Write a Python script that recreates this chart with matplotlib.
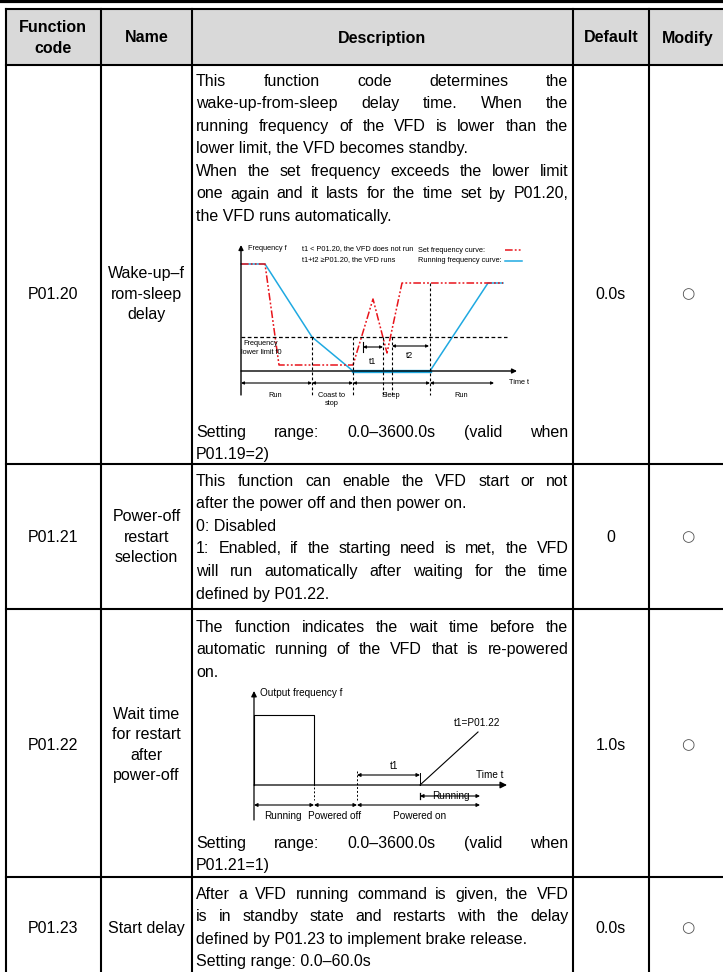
import matplotlib
matplotlib.use("Agg")
import matplotlib.pyplot as plt
from matplotlib.font_manager import FontProperties

plt.rcParams['font.family'] = ['Liberation Sans', 'DejaVu Sans']

# ---- table content ----
headers = ["Function\ncode", "Name", "Description", "Default", "Modify"]
codes = ["P01.20", "P01.21", "P01.22", "P01.23"]
names = ["Wake-up–f\nrom-sleep\ndelay", "Power-off\nrestart\nselection",
         "Wait time\nfor restart\nafter\npower-off", "Start delay"]
defaults = ["0.0s", "0", "1.0s", "0.0s"]
modify = ["○", "○", "○", "○"]

desc_20a = [["This function code determines the",
             "wake-up-from-sleep delay time. When the",
             "running frequency of the VFD is lower than the",
             "lower limit, the VFD becomes standby."],
            ["When the set frequency exceeds the lower limit",
             "one again and it lasts for the time set by P01.20,",
             "the VFD runs automatically."]]
desc_20b = [["Setting range: 0.0–3600.0s (valid when", "P01.19=2)"]]
desc_21 = [["This function can enable the VFD start or not",
            "after the power off and then power on."],
           ["0: Disabled"],
           ["1: Enabled, if the starting need is met, the VFD",
            "will run automatically after waiting for the time",
            "defined by P01.22."]]
desc_22a = [["The function indicates the wait time before the",
             "automatic running of the VFD that is re-powered",
             "on."]]
desc_22b = [["Setting range: 0.0–3600.0s (valid when", "P01.21=1)"]]
desc_23 = [["After a VFD running command is given, the VFD",
            "is in standby state and restarts with the delay",
            "defined by P01.23 to implement brake release."],
           ["Setting range: 0.0–60.0s"]]

# ---- diagram 1 (wake-up-from-sleep) ----
set_t = [0, 24, 38, 112, 132, 146, 161, 262]
set_f = [107, 107, 6, 6, 72, 18, 88, 88]
run_t = [0, 24, 71, 112, 189, 247, 262]
run_f = [107, 107, 34, 0, 0, 88, 88]
f_low = 34
phase_edges = [0, 71, 112, 189, 253]
phase_names = ["Run", "Coast to\nstop", "Sleep", "Run"]
t1_span = [122, 142]
t2_span = [151, 188]

# ---- diagram 2 (restart after power-off) ----
out_t = [0, 0, 60, 60]
out_f = [0, 70, 70, 0]
ramp_t = [166, 224]
ramp_f = [0, 53]
state_edges = [0, 60, 103, 226]
state_names = ["Running", "Powered off", "Powered on"]
wait_span = [103, 166]

# ---- figure ----
W, H = 723, 972
fig = plt.figure(figsize=(W / 100, H / 100), dpi=100)
ax = fig.add_axes([0, 0, 1, 1])
ax.set_xlim(0, W)
ax.set_ylim(H, 0)
ax.axis('off')

FS = 11.5
fp = FontProperties(family=['Liberation Sans', 'DejaVu Sans'], size=FS)
fpb = FontProperties(family=['Liberation Sans', 'DejaVu Sans'], size=FS, weight='bold')
renderer = fig.canvas.get_renderer()

col_x = [5.7, 101, 192, 572.7, 649, 726]
row_y = [9, 65, 464, 609, 877, 990]
TX0, TX1 = 196, 568.5
STEP = 22.6

# header band and grid
ax.fill_between([col_x[0], col_x[-1]], row_y[0], row_y[1], color='#d9d9d9', lw=0)
ax.plot([0, W], [1.3, 1.3], color='k', lw=2.3)
for x in col_x:
    ax.plot([x, x], [row_y[0], row_y[-1]], color='k', lw=1.5)
for y in row_y[:-1]:
    ax.plot([col_x[0], col_x[-1]], [y, y], color='k', lw=1.5)

centers = [(col_x[i] + col_x[i + 1]) / 2 for i in range(5)]
for i, h in enumerate(headers):
    ax.text(centers[i], 38, h, fontproperties=fpb, ha='center', va='center',
            linespacing=1.45)

label_y = [294, 537, 745, 928]
for i in range(4):
    ax.text(centers[0], label_y[i], codes[i], fontproperties=fp, ha='center', va='center')
    ax.text(centers[1], label_y[i], names[i], fontproperties=fp, ha='center',
            va='center', linespacing=1.42)
    ax.text(centers[3], label_y[i], defaults[i], fontproperties=fp, ha='center', va='center')
    ax.text(centers[4], label_y[i], modify[i], fontsize=11, color='#555555',
            family='DejaVu Sans', ha='center', va='center')


def width(s):
    return renderer.get_text_width_height_descent(s, fp, ismath=False)[0]


def put_par(paragraphs, base):
    y = base
    for par in paragraphs:
        for i, line in enumerate(par):
            if i == len(par) - 1:
                ax.text(TX0, y, line, fontproperties=fp, ha='left', va='baseline')
            else:
                words = line.split(' ')
                ws = [width(w) for w in words]
                gap = (TX1 - TX0 - sum(ws)) / (len(words) - 1)
                x = TX0
                for w, wd in zip(words, ws):
                    ax.text(x, y, w, fontproperties=fp, ha='left', va='baseline')
                    x += wd + gap
            y += STEP


put_par(desc_20a, 85.5)
put_par(desc_20b, 436.5)
put_par(desc_21, 485.5)
put_par(desc_22a, 631.5)
put_par(desc_22b, 847.5)
put_par(desc_23, 898.5)


def arrow(a, p0, p1, style='-|>', ms=5, lw=0.8):
    a.annotate('', xy=p1, xytext=p0,
               arrowprops=dict(arrowstyle=style, color='k', lw=lw,
                               mutation_scale=ms, shrinkA=0, shrinkB=0))


# ---- diagram 1 ----
d1 = fig.add_axes([233 / W, 1 - 408 / H, 289 / W, 168 / H])
d1.set_xlim(-8, 281)
d1.set_ylim(-37, 131)
d1.axis('off')
s1 = 5.3
d1.plot(run_t[:4], run_f[:4], color='#1fa9e1', lw=1.1)
d1.plot(run_t[3:5], run_f[3:5], color='#1fa9e1', lw=2.4)
d1.plot(run_t[4:], run_f[4:], color='#1fa9e1', lw=1.1)
d1.plot(set_t, set_f, color='#e8141b', lw=1.1, dashes=(5, 1.4, 1.2, 1.4, 1.2, 1.4))
d1.plot([0, 266], [f_low, f_low], color='k', lw=0.9, ls=(0, (3, 2)))
for x, top in [(71, f_low), (112, f_low), (189, 88), (142, f_low), (151, f_low)]:
    d1.plot([x, x], [top, -24], color='k', lw=0.8, ls=(0, (2.5, 2)))
d1.plot([122, 122], [29, 19], color='k', lw=0.8)
arrow(d1, (0, -24), (0, 126), ms=7, lw=1.0)
arrow(d1, (0, 0), (276, 0), ms=7, lw=1.0)
arrow(d1, (t1_span[0], 24), (t1_span[1], 24), style='<|-|>', ms=4)
arrow(d1, (t2_span[0], 25), (t2_span[1], 25), style='<|-|>', ms=4)
for i in range(4):
    arrow(d1, (phase_edges[i], -12), (phase_edges[i + 1], -12), style='<|-|>', ms=4)
    d1.text((phase_edges[i] + phase_edges[i + 1]) / 2 - 1, -21, phase_names[i],
            fontsize=s1, ha='center', va='top', linespacing=1.2)
d1.text(132, 10, "t1", fontsize=s1 + 1, ha='center', va='center')
d1.text(169, 16, "t2", fontsize=s1 + 1, ha='center', va='center')
d1.text(20, 23, "Frequency\nlower limit f0", fontsize=s1, ha='center', va='center',
        linespacing=1.3)
d1.text(7, 122, "Frequency f", fontsize=s1, ha='left', va='center')
d1.text(61, 122, "t1 < P01.20, the VFD does not run", fontsize=s1, ha='left', va='center')
d1.text(61, 111, "t1+t2 ≥P01.20, the VFD runs", fontsize=s1, ha='left', va='center')
d1.text(177, 121, "Set frequency curve:", fontsize=s1, ha='left', va='center')
d1.text(177, 110, "Running frequency curve:", fontsize=s1, ha='left', va='center')
d1.plot([264, 281], [121, 121], color='#e8141b', lw=1.1, dashes=(5, 1.4, 1.2, 1.4, 1.2, 1.4),
        clip_on=False)
d1.plot([264, 281], [110, 110], color='#1fa9e1', lw=1.1, clip_on=False)
d1.text(268, -11, "Time t", fontsize=s1, ha='left', va='center', clip_on=False)

# ---- diagram 2 ----
d2 = fig.add_axes([240 / W, 1 - 822 / H, 282 / W, 134 / H])
d2.set_xlim(-14, 268)
d2.set_ylim(-37, 97)
d2.axis('off')
s2 = 7.2
d2.plot(out_t, out_f, color='k', lw=0.8)
d2.plot(ramp_t, ramp_f, color='k', lw=0.8)
arrow(d2, (0, -35), (0, 94), ms=8, lw=0.9)
arrow(d2, (0, 0), (253, 0), ms=10, lw=0.9)
d2.plot([60, 60], [-2, -15], color='k', lw=0.7, ls=(0, (2, 2)))
d2.plot([103, 103], [14, -15], color='k', lw=0.7, ls=(0, (2, 2)))
d2.plot([166, 166], [12, 0], color='k', lw=0.7)
d2.plot([166, 166], [-8, -14], color='k', lw=0.9)
arrow(d2, (wait_span[0], 10), (wait_span[1], 10), style='<|-|>', ms=5)
d2.text(140, 19, "t1", fontsize=s2, ha='center', va='center')
for i in range(3):
    arrow(d2, (state_edges[i], -20), (state_edges[i + 1], -20), style='<|-|>', ms=5)
arrow(d2, (166, -11), (226, -11), style='<|-|>', ms=5)
d2.text(197, -11, "Running", fontsize=s2, ha='center', va='center')
for x, s in zip([29, 81, 166], state_names):
    d2.text(x, -31, s, fontsize=s2, ha='center', va='center')
d2.text(6, 92, "Output frequency f", fontsize=s2, ha='left', va='center', clip_on=False)
d2.text(223, 62, "t1=P01.22", fontsize=s2, ha='center', va='center')
d2.text(236, 10, "Time t", fontsize=s2, ha='center', va='center')

fig.savefig("out.png", dpi=100)
